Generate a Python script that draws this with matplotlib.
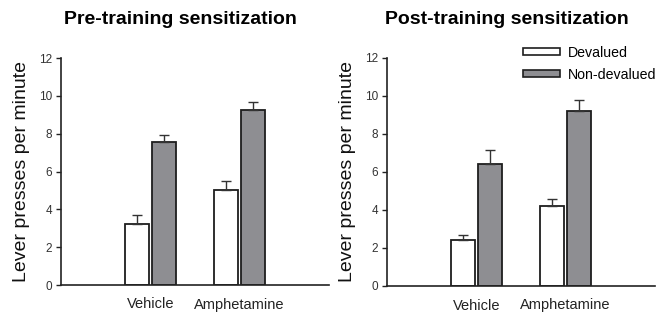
import numpy as np
import matplotlib
matplotlib.use("Agg")
import matplotlib.pyplot as plt
from matplotlib.patches import Patch

plt.rcParams['font.family'] = ['Liberation Sans', 'DejaVu Sans']

# Data
groups = ['Vehicle', 'Amphetamine']
series = ['Devalued', 'Non-devalued']

pre_devalued = [3.2, 5.02]
pre_devalued_err = [0.52, 0.48]
pre_nondevalued = [7.58, 9.25]
pre_nondevalued_err = [0.35, 0.40]

post_devalued = [2.4, 4.2]
post_devalued_err = [0.30, 0.40]
post_nondevalued = [6.42, 9.2]
post_nondevalued_err = [0.73, 0.60]

titles = ['Pre-training sensitization', 'Post-training sensitization']
yticks = [0, 2, 4, 6, 8, 10, 12]

fig = plt.figure(figsize=(6.58, 3.12), dpi=100)
ax1 = fig.add_axes([61 / 658, 27 / 312, 268 / 658, 227 / 312])
ax2 = fig.add_axes([387 / 658, 26 / 312, 268 / 658, 228 / 312])

white = '#ffffff'
gray = '#8e8e92'
edge = '#1e1e1e'
width = 0.27
off = 0.152

panels = [
    (ax1, pre_devalued, pre_devalued_err, pre_nondevalued, pre_nondevalued_err),
    (ax2, post_devalued, post_devalued_err, post_nondevalued, post_nondevalued_err),
]

x = np.arange(len(groups))
for ax, dv, dve, nd, nde in panels:
    ax.bar(x - off, dv, width, color=white, edgecolor=edge, linewidth=1.3,
           yerr=[np.zeros(len(dve)), dve], error_kw=dict(ecolor='#333333', elinewidth=1.0, capsize=3.5, capthick=1.0),
           zorder=2)
    ax.bar(x + off, nd, width, color=gray, edgecolor=edge, linewidth=1.3,
           yerr=[np.zeros(len(nde)), nde], error_kw=dict(ecolor='#333333', elinewidth=1.0, capsize=3.5, capthick=1.0),
           zorder=2)
    ax.set_xlim(-1.0, 2.0)
    ax.set_ylim(0, 12)
    ax.set_yticks(yticks)
    ax.set_yticklabels([str(t) for t in yticks], fontsize=8.5, color='#333333')
    ax.tick_params(axis='y', direction='out', length=3.5, width=1.0, color='#222222', pad=3)
    ax.set_xticks(x)
    ax.set_xticklabels(groups, fontsize=10.5, color='#222222')
    ax.tick_params(axis='x', length=0, pad=9)
    for s in ['top', 'right']:
        ax.spines[s].set_visible(False)
    for s in ['left', 'bottom']:
        ax.spines[s].set_linewidth(1.2)
        ax.spines[s].set_color('#222222')
    ax.set_ylabel('Lever presses per minute', fontsize=14, color='#111111', labelpad=6)

fig.text(180 / 658, 1 - 20 / 312, titles[0], ha='center', va='center', fontsize=14, fontweight='bold')
fig.text(507 / 658, 1 - 20 / 312, titles[1], ha='center', va='center', fontsize=14, fontweight='bold')

handles = [Patch(facecolor=white, edgecolor=edge, linewidth=1.2),
           Patch(facecolor=gray, edgecolor=edge, linewidth=1.2)]
ax2.legend(handles, series, loc='upper right', bbox_to_anchor=(1.037, 1.091), frameon=False,
           borderaxespad=0.2, fontsize=10.2, handlelength=2.6, handleheight=0.4,
           labelspacing=0.55, handletextpad=0.55)

fig.savefig('out.png', dpi=100)
